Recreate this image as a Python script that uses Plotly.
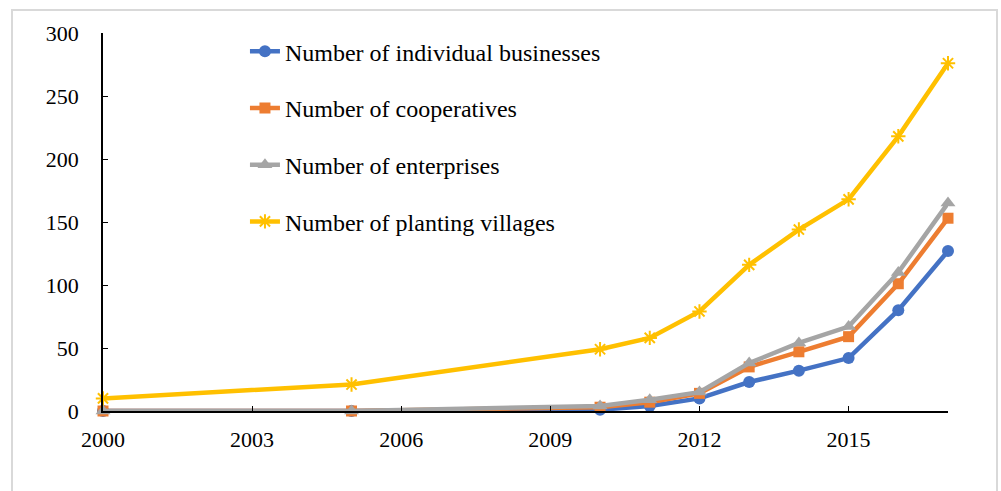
import plotly.graph_objects as go

years = [2000, 2005, 2010, 2011, 2012, 2013, 2014, 2015, 2016, 2017]
individual = [0, 0, 1, 4, 10, 23, 32, 42, 80, 127]
cooperatives = [0, 0, 3, 7, 14, 35, 47, 59, 101, 153]
enterprises = [0, 0, 4, 9, 15, 38, 54, 67, 110, 165]
villages = [10, 21, 49, 58, 79, 116, 144, 168, 218, 276]

names = ["Number of individual businesses", "Number of cooperatives",
         "Number of enterprises", "Number of planting villages"]
series = [individual, cooperatives, enterprises, villages]
colors = ["#4472C4", "#ED7D31", "#A5A5A5", "#FFC000"]
symbols = ["circle", "square", "triangle-up", "asterisk-open"]
sizes = [12, 11, 13, 12]

fig = go.Figure()
for n, s, c, sym, sz in zip(names, series, colors, symbols, sizes):
    marker = dict(symbol=sym, size=sz, color=c)
    if sym == "asterisk-open":
        marker["line"] = dict(color=c, width=2)
    fig.add_trace(go.Scatter(
        x=years, y=s, name=n, mode="lines+markers",
        line=dict(color=c, width=4.5), marker=marker,
        cliponaxis=False, legendgroup=n,
    ))

font_family = "Liberation Serif, Times New Roman, serif"
fig.update_layout(
    width=1001, height=491,
    margin=dict(l=103, r=53, t=33, b=80),
    paper_bgcolor="white", plot_bgcolor="white",
    font=dict(family=font_family, size=22, color="black"),
    showlegend=True,
    legend=dict(
        x=0.168, y=1.01, xanchor="left", yanchor="top",
        bgcolor="rgba(0,0,0,0)", font=dict(size=24, family=font_family),
        tracegroupgap=22.5, itemwidth=30,
    ),
    xaxis=dict(
        range=[2000, 2017], tick0=2000, dtick=3, tickmode="linear",
        showgrid=False, zeroline=False, showline=True, linecolor="black",
        linewidth=1.5, ticks="inside", ticklen=5, tickcolor="black",
        tickfont=dict(size=22), ticklabelstandoff=8,
    ),
    yaxis=dict(
        range=[0, 300], dtick=50, tick0=0, tickmode="linear",
        showgrid=False, zeroline=False, showline=True, linecolor="black",
        linewidth=1.5, ticks="inside", ticklen=5, tickcolor="black",
        tickfont=dict(size=22), ticklabelstandoff=18,
    ),
    shapes=[dict(
        type="rect", xref="paper", yref="paper",
        x0=(12 - 103) / 845, x1=(997 - 103) / 845,
        y0=(411 - 500) / 378, y1=(411 - 10) / 378,
        line=dict(color="#D9D9D9", width=2), fillcolor="rgba(0,0,0,0)",
        layer="below",
    )],
)

fig.write_html("out.html")
